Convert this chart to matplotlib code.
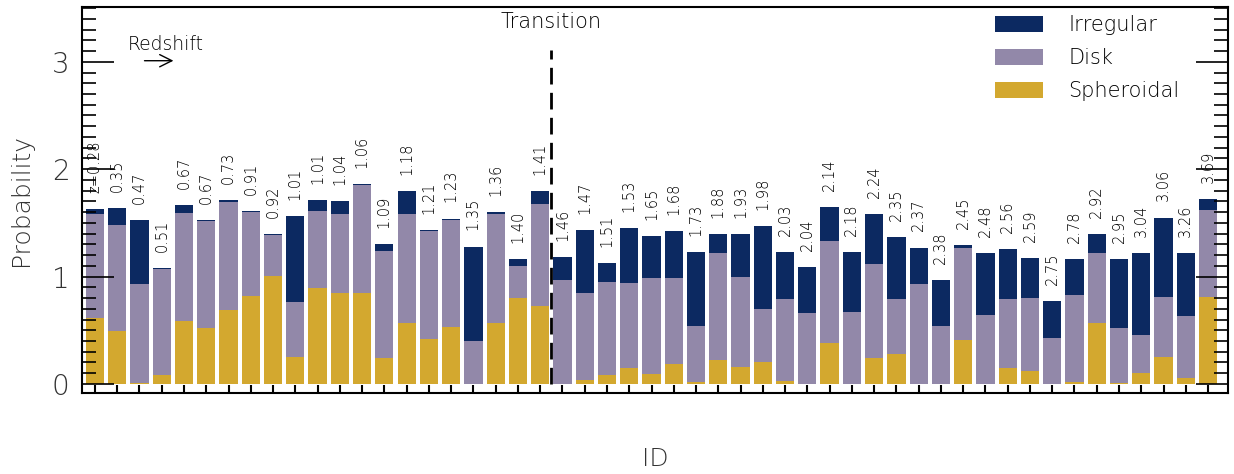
import matplotlib
matplotlib.use("Agg")
import matplotlib.pyplot as plt
from matplotlib import font_manager
from matplotlib.ticker import MultipleLocator


# the reference uses a thin font, look for a light weight that is installed
def pick_light_font():
    names = {'thin': 100, 'extralight': 200, 'extra light': 200, 'ultralight': 200,
             'light': 300, 'normal': 400, 'regular': 400, 'book': 400}
    for fam in ['DejaVu Sans', 'Lato', 'Open Sans', 'Roboto', 'Inter', 'Noto Sans']:
        for f in font_manager.fontManager.ttflist:
            w = f.weight
            if not isinstance(w, int):
                w = names.get(str(w).lower(), 400)
            if f.name == fam and f.style == 'normal' and 200 <= w <= 300:
                return fam, w
    return 'DejaVu Sans', 400


font_fam, font_w = pick_light_font()
plt.rcParams['font.family'] = [font_fam, 'DejaVu Sans']
plt.rcParams['font.weight'] = font_w
plt.rcParams['axes.labelweight'] = font_w

# redshift of each object, used as bar labels
redshifts = ["z=0.28", "0.35", "0.47", "0.51", "0.67", "0.67", "0.73", "0.91", "0.92", "1.01",
             "1.01", "1.04", "1.06", "1.09", "1.18", "1.21", "1.23", "1.35", "1.36", "1.40",
             "1.41", "1.46", "1.47", "1.51", "1.53", "1.65", "1.68", "1.73", "1.88", "1.93",
             "1.98", "2.03", "2.04", "2.14", "2.18", "2.24", "2.35", "2.37", "2.38", "2.45",
             "2.48", "2.56", "2.59", "2.75", "2.78", "2.92", "2.95", "3.04", "3.06", "3.26",
             "3.69"]

spheroidal = [0.61, 0.49, 0.01, 0.08, 0.59, 0.52, 0.69, 0.82, 1.01, 0.25,
              0.89, 0.85, 0.85, 0.24, 0.57, 0.42, 0.53, 0.00, 0.57, 0.80,
              0.73, 0.00, 0.04, 0.08, 0.15, 0.09, 0.19, 0.02, 0.22, 0.16,
              0.20, 0.03, 0.00, 0.38, 0.00, 0.24, 0.28, 0.00, 0.00, 0.41,
              0.00, 0.15, 0.12, 0.00, 0.02, 0.57, 0.01, 0.10, 0.25, 0.06,
              0.81]

disk = [0.97, 0.99, 0.92, 0.99, 1.00, 1.00, 1.00, 0.78, 0.38, 0.51,
        0.72, 0.73, 1.00, 1.00, 1.01, 1.00, 1.00, 0.40, 1.01, 0.30,
        0.95, 0.97, 0.81, 0.87, 0.79, 0.90, 0.80, 0.52, 1.00, 0.84,
        0.50, 0.76, 0.66, 0.95, 0.67, 0.88, 0.51, 0.93, 0.54, 0.86,
        0.64, 0.64, 0.68, 0.43, 0.81, 0.65, 0.51, 0.36, 0.56, 0.57,
        0.81]

irregular = [0.05, 0.16, 0.60, 0.01, 0.08, 0.01, 0.02, 0.01, 0.01, 0.80,
             0.10, 0.12, 0.01, 0.065, 0.22, 0.01, 0.01, 0.88, 0.02, 0.06,
             0.12, 0.21, 0.58, 0.18, 0.51, 0.39, 0.43, 0.69, 0.18, 0.40,
             0.77, 0.44, 0.43, 0.32, 0.56, 0.46, 0.58, 0.34, 0.43, 0.02,
             0.58, 0.47, 0.37, 0.34, 0.33, 0.18, 0.64, 0.76, 0.74, 0.59,
             0.10]

transition_at = 20.5

c_irr = '#0c2961'
c_disk = '#9288a9'
c_sph = '#d3a82f'

fig = plt.figure(figsize=(12.34, 4.74), dpi=100)
ax = fig.add_axes([0.0665, 0.1709, 0.9287, 0.8143])

x = list(range(len(redshifts)))
bottom2 = [s + d for s, d in zip(spheroidal, disk)]
ax.bar(x, spheroidal, width=0.82, color=c_sph, label='Spheroidal')
ax.bar(x, disk, width=0.82, bottom=spheroidal, color=c_disk, label='Disk')
ax.bar(x, irregular, width=0.82, bottom=bottom2, color=c_irr, label='Irregular')

# redshift labels above each bar
for i, lab in enumerate(redshifts):
    top = bottom2[i] + irregular[i]
    ax.text(i, top + 0.15, lab, rotation=90, ha='center', va='bottom',
            fontsize=10.5, color='black')

ax.plot([transition_at, transition_at], [0, 3.11], color='black', lw=2,
        dashes=(6, 3))
ax.text(transition_at, 3.37, "Transition", ha='center', va='center', fontsize=15)

ax.text(3.2, 3.16, "Redshift", ha='center', va='center', fontsize=13.5)
ax.annotate("", xy=(3.65, 3.01), xytext=(2.1, 3.01),
            arrowprops=dict(arrowstyle='->', lw=1, color='black', mutation_scale=22))

ax.set_xlim(-0.58, 50.9)
ax.set_ylim(-0.084, 3.51)

ax.set_xticks(x)
ax.set_xticklabels([])
ax.yaxis.set_major_locator(MultipleLocator(1))
ax.yaxis.set_minor_locator(MultipleLocator(0.1))
ax.tick_params(axis='x', direction='in', length=6, width=1.5, top=False)
ax.tick_params(axis='y', which='major', direction='in', length=23, width=1.2,
               right=True, labelsize=20, pad=9, labelcolor='#333333')
ax.tick_params(axis='y', which='minor', direction='in', length=10, width=1.2, right=True)
for sp in ax.spines.values():
    sp.set_linewidth(1.5)

ax.set_xlabel("ID", fontsize=18, color='#333333')
ax.xaxis.set_label_coords(0.5, -0.14)
ax.set_ylabel("Probability", fontsize=18, color='#333333')
ax.yaxis.set_label_coords(-0.043, 0.5)

handles, labels = ax.get_legend_handles_labels()
ax.legend(handles[::-1], labels[::-1], loc='upper right', frameon=False, fontsize=15,
          handlelength=2.3, handleheight=0.8, labelspacing=0.62, handletextpad=1.2,
          bbox_to_anchor=(0.974, 1.027))

fig.savefig("out.png", dpi=100)
